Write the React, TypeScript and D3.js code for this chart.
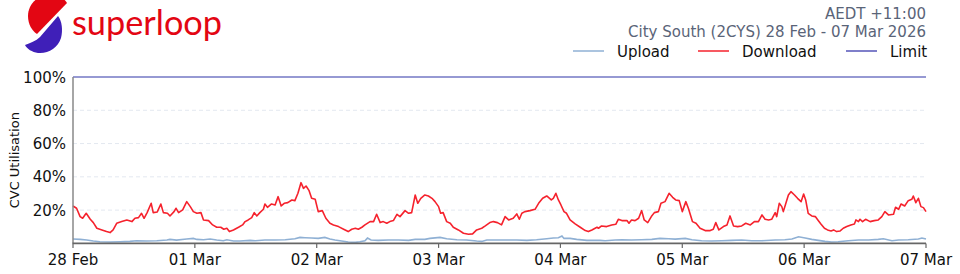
import React from "react";
import * as d3 from "d3";

// hours since 28 Feb 00:00 AEDT, utilisation %
const downloadSeries: [number, number][] = [
  [0,22.5],[0.7,21.1],[1.4,16.1],[1.9,15.1],[2.6,18.1],[3.4,14.5],[4.0,12.5],[4.7,9.1],[5.7,8.1],[6.6,7.1],[7.3,6.5],[7.9,8.1],[8.6,12.1],[9.6,13.1],[10.6,14.1],[11.6,13.1],[12.2,15.1],[12.9,15.5],[13.5,18.1],[14.0,15.1],[14.6,18.5],[15.4,24.1],[15.8,18.5],[16.6,18.9],[17.3,23.7],[17.8,18.5],[18.6,18.1],[19.1,16.5],[19.9,19.1],[20.3,21.1],[20.8,18.5],[21.6,20.1],[22.4,25.1],[23.1,22.1],[23.7,19.1],[24.4,18.1],[25.2,18.5],[25.7,14.1],[26.7,13.7],[27.5,11.1],[28.3,9.7],[29.1,9.7],[29.7,8.5],[30.3,9.1],[30.8,7.1],[31.6,8.1],[32.6,9.7],[33.4,11.1],
  [33.9,13.1],[34.5,14.1],[35.2,15.5],[35.7,18.5],[36.2,16.5],[36.8,18.5],[37.5,20.5],[37.8,23.7],[38.3,21.7],[39.1,23.7],[39.8,23.1],[40.4,28.1],[41.0,22.5],[41.6,24.1],[42.3,24.5],[43.1,26.1],[43.7,25.7],[44.3,30.1],[44.9,36.5],[45.4,33.1],[45.9,34.5],[46.5,31.7],[47.0,27.1],[47.7,26.5],[48.3,19.1],[49.1,19.7],[49.8,15.1],[50.6,12.1],[51.3,11.1],[52.3,10.1],[53.3,8.5],[54.2,7.1],[54.9,8.5],[55.6,9.1],[56.2,8.5],[56.9,9.7],[57.5,11.1],[58.5,13.1],[59.2,13.1],[59.8,17.5],[60.5,12.5],[61.1,13.1],[61.8,12.1],[62.4,13.1],[63.1,13.7],[63.8,17.5],[64.4,16.1],[65.4,19.7],[66.1,18.1],[66.7,18.5],[67.4,29.1],[67.9,24.1],[68.5,27.1],[69.3,29.1],
  [70.0,28.5],[70.7,27.1],[71.3,25.1],[72.0,22.1],[72.4,18.1],[72.9,18.5],[73.6,13.1],[74.3,12.1],[74.9,9.7],[75.9,8.1],[76.9,6.1],[77.9,5.5],[78.7,5.7],[79.5,8.1],[80.5,9.1],[81.2,10.5],[82.1,12.5],[82.8,13.1],[83.6,12.5],[84.4,11.1],[85.1,16.1],[85.8,14.1],[86.7,15.1],[87.4,17.7],[87.9,14.5],[88.4,18.1],[89.0,19.1],[90.0,19.7],[91.0,20.5],[91.7,24.1],[92.5,27.1],[93.3,28.5],[94.2,26.1],[94.6,27.1],[95.1,30.1],[95.6,26.1],[96.1,23.1],[96.7,19.1],[97.2,18.1],[97.9,14.1],[98.9,11.7],[99.9,9.7],[100.9,7.7],[101.5,7.1],[102.2,8.1],[103.2,9.7],
  [103.5,9.1],[104.1,10.5],[105.1,10.1],[106.1,11.1],[106.9,11.5],[107.4,14.5],[108.1,13.7],[109.1,13.7],[109.5,12.1],[110.0,14.1],[110.7,13.7],[111.4,15.1],[112.0,19.7],[112.5,14.1],[113.2,12.5],[113.9,16.1],[114.5,18.5],[115.3,19.1],[115.8,24.1],[116.6,25.1],[117.4,30.1],[118.1,27.7],[118.7,26.1],[119.4,25.7],[120.0,19.1],[120.7,25.1],[121.2,21.1],[122.0,13.1],[122.7,12.1],[123.5,9.1],[124.5,7.7],[125.5,7.7],[126.1,8.5],[126.6,12.5],[127.2,8.1],[128.1,10.1],[128.8,11.1],[129.4,16.5],[130.1,10.5],[130.9,10.1],[131.7,10.5],[132.5,12.1],[133.4,11.1],[134.2,13.1],[135.0,13.1],[135.7,17.1],
  [136.3,14.5],[137.0,14.1],[137.6,14.5],[138.3,18.5],[138.6,16.1],[139.1,24.1],[139.6,22.1],[139.9,19.1],[140.4,24.1],[140.9,29.1],[141.4,31.1],[142.1,29.1],[142.7,27.1],[143.4,25.1],[143.9,29.7],[144.3,26.1],[144.8,18.1],[145.5,16.5],[146.2,16.1],[146.7,14.1],[147.3,11.7],[148.0,9.1],[148.6,8.1],[149.3,7.5],[149.8,8.1],[150.4,7.1],[151.1,7.5],[151.7,9.1],[152.4,10.1],[153.2,11.1],[153.9,11.7],[154.2,14.1],[154.7,13.1],[155.0,14.5],[155.5,13.1],[156.1,14.5],[157.0,13.1],[157.8,13.7],[158.6,14.1],[159.3,16.1],[159.9,19.1],[160.6,17.1],[161.6,17.5],[162.0,21.7],[162.6,20.5],[163.1,23.7],[163.8,22.5],[164.5,25.7],[165.2,26.5],[165.5,28.5],[166.0,24.5],[166.5,27.1],[167.0,22.1],[167.5,21.5],[168,19.1],
];

const uploadSeries: [number, number][] = [
  [0,2.6],[1.4,2.4],[2.7,2.0],[4.0,1.4],[5.3,1.0],[7.3,0.8],[9.3,1.0],[11.2,1.2],[12.5,1.6],[14.5,1.4],[16.5,1.6],[18.5,2.0],[19.1,2.4],[20.4,2.0],[22.4,2.6],[23.7,3.0],[24.4,2.4],[25.7,2.2],[27.0,2.6],[28.3,2.0],[29.6,1.6],[30.3,2.2],[31.6,1.4],[32.9,1.4],[34.9,1.8],[35.9,1.6],[37.8,2.0],[39.8,2.0],[41.8,2.2],[43.7,2.8],[44.7,3.6],[45.7,3.4],[47.0,3.2],[48.3,3.0],[49.6,3.6],[50.6,2.6],[51.6,2.0],[52.9,1.4],[54.2,0.8],[55.6,0.6],[56.5,1.0],[57.5,1.6],[58.0,3.2],[58.7,2.0],[60.1,1.8],[62.1,2.0],[64.1,2.0],[66.1,1.8],[67.4,2.4],[69.3,2.4],[70.3,3.0],[72.3,3.6],[73.6,2.8],[75.6,2.2],[77.5,2.0],[79.5,1.4],[80.5,1.2],[81.5,2.0],[83.5,2.0],[85.4,2.0],[87.4,2.0],[89.4,1.8],[91.3,2.2],[93.3,2.8],[94.6,3.2],[95.6,3.4],[96.3,4.4],[96.7,3.0],[97.9,3.0],[99.2,2.4],[101.2,1.8],[103.8,1.8],[104.8,1.6],[106.8,2.0],[108.1,2.2],[110.0,2.0],[112.0,2.2],[114.0,2.4],[115.6,3.0],[117.3,2.8],[118.6,2.6],[120.6,3.0],[121.9,2.2],[123.8,1.6],[125.8,1.4],[127.8,1.6],[129.7,1.8],[131.7,2.0],[133.7,1.6],[135.7,1.6],[138.3,2.0],[140.2,2.2],[141.6,2.6],[142.9,4.0],[144.2,3.2],[145.5,2.4],[146.8,1.8],[148.1,1.2],[149.4,0.8],[150.7,1.0],[152.7,1.6],[154.7,2.0],[156.7,2.0],[158.6,2.4],[159.6,2.8],[161.3,1.6],[162.6,2.0],[164.5,2.2],[166.5,2.6],[167.2,3.2],[168,2.6],
];

const limitValue = 100;
const dayLabels = ["28 Feb", "01 Mar", "02 Mar", "03 Mar", "04 Mar", "05 Mar", "06 Mar", "07 Mar"];
const yTicks = [20, 40, 60, 80, 100];
const legendItems = [
  { label: "Upload", color: "#8fb0d4" },
  { label: "Download", color: "#f5222d" },
  { label: "Limit", color: "#5555b8" },
];
const titleLines = ["AEDT +11:00", "City South (2CYS) 28 Feb - 07 Mar 2026"];

const W = 960, H = 274;
const left = 73, right = 926, top = 77, bottom = 243.4;
const FONT = "DejaVu Sans, sans-serif";

export default function App() {
  const x = d3.scaleLinear().domain([0, 168]).range([left, right]);
  const y = d3.scaleLinear().domain([0, 100]).range([bottom, top]);
  const line = d3.line<[number, number]>().x(d => x(d[0])).y(d => y(d[1]));

  const legendX = [573, 698, 846];
  return (
    <svg width={W} height={H} style={{ display: "block", position: "absolute", left: 0, top: 0 }}>
      <rect width={W} height={H} fill="#fff" />
      {/* logo */}
      <path d="M67,3 L37,34 C32,31 28,24 28,16 C28,4 38,-5 50,-6 C58,-6 64,-2 67,3 Z" fill="#e30613" />
      <path d="M58,16 C62,21 63,30 61,38 C58,48 48,54 38,53 C32,52 27,49 25,45 C30,43 36,41 40,37 Z" fill="#3f1fb8" />
      <text x={72} y={35} fontFamily="Lato, sans-serif" fontSize={35} fill="#e30613" textLength={150} lengthAdjust="spacingAndGlyphs">superloop</text>

      {/* titles */}
      {titleLines.map((t, i) => (
        <text key={t} x={926} y={19 + i * 18} textAnchor="end" fontFamily={FONT} fontSize={15} fill="#5a6478">{t}</text>
      ))}
      {/* legend */}
      {legendItems.map((it, i) => (
        <g key={it.label}>
          <line x1={legendX[i]} x2={legendX[i] + 31} y1={51} y2={51} stroke={it.color} strokeWidth={1.5} />
          <text x={legendX[i] + 44} y={56.5} fontFamily={FONT} fontSize={15} fill="#111">{it.label}</text>
        </g>
      ))}

      {/* grid */}
      {yTicks.filter(t => t < 100).map(t => (
        <line key={t} x1={left} x2={right} y1={y(t)} y2={y(t)} stroke="#e3e8f0" strokeWidth={1} strokeDasharray="4,3" />
      ))}
      {/* y ticks labels */}
      {yTicks.map(t => (
        <text key={t} x={66} y={y(t) + 5.5} textAnchor="end" fontFamily={FONT} fontSize={15} fill="#111">{t}%</text>
      ))}
      <text transform={`translate(19,${(top + bottom) / 2}) rotate(-90)`} textAnchor="middle" fontFamily={FONT} fontSize={13} fill="#111">CVC Utilisation</text>

      {/* series */}
      <path d={line(uploadSeries) || ""} fill="none" stroke="#8fb0d4" strokeWidth={1.6} />
      <path d={line(downloadSeries) || ""} fill="none" stroke="#f5222d" strokeWidth={1.6} strokeLinejoin="round" />
      <line x1={left} x2={right} y1={y(limitValue)} y2={y(limitValue)} stroke="#7377c4" strokeWidth={1.3} />

      {/* axes */}
      <line x1={left} x2={left} y1={top} y2={bottom} stroke="#888" strokeWidth={1.5} />
      <line x1={left - 0.5} x2={right} y1={bottom} y2={bottom} stroke="#666" strokeWidth={1.8} />
      {dayLabels.map((d, i) => (
        <g key={d}>
          <line x1={x(i * 24)} x2={x(i * 24)} y1={bottom} y2={bottom + 4.5} stroke="#666" strokeWidth={1.2} />
          <text x={x(i * 24)} y={265} textAnchor="middle" fontFamily={FONT} fontSize={15} fill="#111">{d}</text>
        </g>
      ))}
    </svg>
  );
}
